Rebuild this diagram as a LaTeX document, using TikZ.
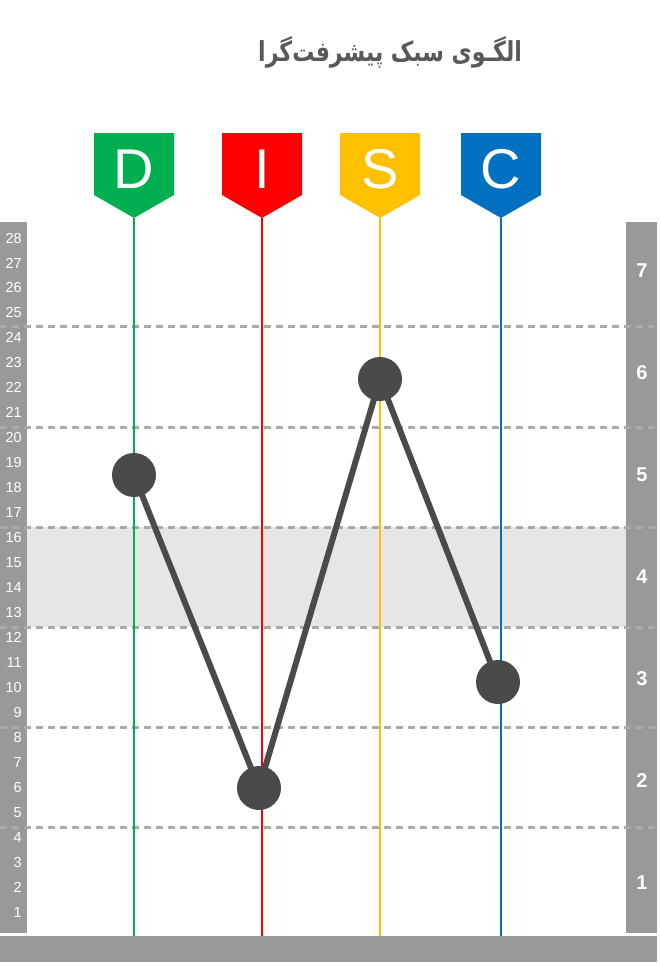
\documentclass[tikz,border=0pt]{standalone}
\usepackage{fontspec}
\setmainfont{Liberation Sans}
\newfontfamily\arabicfont[Script=Arabic]{DejaVu Sans}
\TeXXeTstate=1
\usepackage{tikz}
\usetikzlibrary{positioning}

\definecolor{discD}{HTML}{00B050}
\definecolor{discI}{HTML}{FF0000}
\definecolor{discS}{HTML}{FFC000}
\definecolor{discC}{HTML}{0070C0}
\definecolor{colgray}{HTML}{999999}
\definecolor{bandgray}{HTML}{E6E6E6}
\definecolor{dashgray}{HTML}{AAAAAA}
\definecolor{dotgray}{HTML}{4A4A4A}
\definecolor{titlegray}{HTML}{595959}

\tikzset{
    gridline/.style={dashgray, line width=3pt, dash pattern=on 7pt off 5pt},
    badge/.style={inner sep=0pt, text=white, font=\fontsize{56}{56}\selectfont},
    leftnum/.style={anchor=east, inner sep=0pt, text=white, font=\fontsize{14.5}{14.5}\selectfont},
    rightnum/.style={inner sep=0pt, text=white, font=\fontsize{20}{20}\selectfont\bfseries},
    link/.style={dotgray, line width=6pt},
    dot/.style={circle, fill=dotgray, minimum size=44pt, inner sep=0pt},
}

\begin{document}
\begin{tikzpicture}[x=1pt, y=-1pt]
    \useasboundingbox (0,0) rectangle (660,963);
    \node[text=titlegray, font=\arabicfont\bfseries\fontsize{22}{22}\selectfont] (title) at (390,52) {\scalebox{1}[1.25]{\beginR الگـوی سبک پیشرفت‌گرا\endR}};
    % band and side columns
    \fill[bandgray] (27,527) rectangle (626,627);
    \fill[colgray] (0,222) rectangle (27,933);
    \fill[colgray] (626,222) rectangle (657,933);
    \fill[colgray] (0,936) rectangle (657,962);
    \foreach \y in {326,427,527,627,727,827}
        \draw[gridline] (0,\y) -- (657,\y);
    \foreach \n in {1,...,28}
        \node[leftnum] (l\n) at (22,{912-(\n-1)*24.96}) {\n};
    \foreach \n in {1,...,7}
        \node[rightnum] (r\n) at (642,{883-(\n-1)*102}) {\n};
    % badges and their lines
    \foreach \name/\col/\x in {D/discD/134,I/discI/262,S/discS/380,C/discC/501} {
        \coordinate (\name tip) at (\x,218);
        \coordinate (\name foot) at (\x,936);
        \draw[\col, line width=2pt] (\name tip) -- (\name foot);
        \fill[\col] (\x-40,133) -- (\x+40,133) -- (\x+40,195) -- (\name tip) -- (\x-40,195) -- cycle;
        \node[badge] (\name) at (\x,169) {\name};
    }
    % profile
    \coordinate (vD) at (134,475);
    \coordinate (vI) at (259,788);
    \coordinate (vS) at (380,379);
    \coordinate (vC) at (498,682);
    \draw[link] (vD) -- (vI) -- (vS) -- (vC);
    \foreach \name in {D,I,S,C}
        \node[dot] (p\name) at (v\name) {};
\end{tikzpicture}
\end{document}
